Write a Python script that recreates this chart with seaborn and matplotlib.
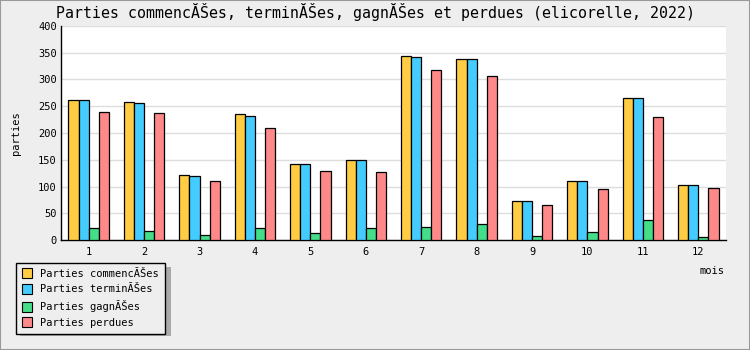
import matplotlib
matplotlib.use("Agg")
import matplotlib.pyplot as plt
from matplotlib.lines import Line2D
from matplotlib.patches import Rectangle
from matplotlib.ticker import MultipleLocator, FixedLocator
import seaborn as sns
import pandas as pd

mois = ["1", "2", "3", "4", "5", "6", "7", "8", "9", "10", "11", "12"]
commencees = [261, 257, 121, 235, 142, 149, 343, 337, 74, 110, 265, 104]
terminees = [261, 255, 119, 232, 142, 149, 341, 337, 74, 110, 265, 104]
gagnees = [22, 18, 9, 23, 13, 22, 24, 31, 8, 15, 37, 7]
perdues = [239, 237, 110, 209, 129, 127, 317, 306, 66, 95, 229, 97]
series = ["Parties commencĂŠes", "Parties terminĂŠes", "Parties gagnĂŠes", "Parties perdues"]
couleurs = ["#FFCC44", "#44CCFF", "#44DD88", "#FF8888"]
titre = "Parties commencĂŠes, terminĂŠes, gagnĂŠes et perdues (elicorelle, 2022)"

rows = []
for nom, vals in zip(series, [commencees, terminees, gagnees, perdues]):
    for m, v in zip(mois, vals):
        rows.append({"mois": m, "valeur": v, "serie": nom})
df = pd.DataFrame(rows)

sns.set_style("white")
plt.rcParams["font.family"] = ["DejaVu Sans Mono", "DejaVu Sans"]
plt.rcParams["text.color"] = "black"
plt.rcParams["xtick.color"] = "black"
plt.rcParams["ytick.color"] = "black"
plt.rcParams["axes.labelcolor"] = "black"

fig = plt.figure(figsize=(7.5, 3.5), dpi=100, facecolor="#EEEEEE")
ax = fig.add_axes([61 / 750, 1 - 240.3 / 350, (726 - 61) / 750, (240.3 - 25.7) / 350])
ax.set_facecolor("white")

sns.barplot(data=df, x="mois", y="valeur", hue="serie", order=mois, hue_order=series,
            palette=couleurs, width=0.73, gap=0, edgecolor="black", linewidth=0.9,
            saturation=1, legend=False, ax=ax, zorder=3)

ax.set_xlim(-0.5, 11.5)
ax.set_ylim(0, 400)
ax.yaxis.set_major_locator(MultipleLocator(50))
ax.yaxis.set_minor_locator(MultipleLocator(10))
ax.grid(axis="y", which="major", color="#DDDDDD", linewidth=1.0, zorder=0)
ax.set_axisbelow(True)
ax.tick_params(axis="y", which="major", direction="in", length=4.5, width=0.9,
               labelsize=7.5, pad=3, color="black", labelcolor="black")
ax.tick_params(axis="y", which="minor", direction="in", length=2.5, width=0.8, color="black")
ax.set_xticks(range(12))
ax.set_xticklabels(mois)
ax.xaxis.set_minor_locator(FixedLocator([i + 0.5 for i in range(-1, 12)]))
ax.tick_params(axis="x", which="major", length=0, labelsize=7.5, pad=5, labelcolor="black")
ax.tick_params(axis="x", which="minor", direction="in", length=4.5, width=0.9, color="black")
ax.set_xlabel("")
ax.set_ylabel("")
for s in ["top", "right"]:
    ax.spines[s].set_visible(False)
for s in ["left", "bottom"]:
    ax.spines[s].set_color("black")
    ax.spines[s].set_linewidth(1.0)

fig.text(0.5, 1 - 12 / 350, titre, ha="center", va="center", fontsize=10.7,
         fontweight="normal", color="black")
fig.text(15.5 / 750, 1 - 133 / 350, "parties", rotation=90, ha="center", va="center",
         fontsize=7.5, color="black")
fig.text(724 / 750, 1 - 271 / 350, "mois", ha="right", va="center", fontsize=7.5, color="black")

handles = [Line2D([], [], linestyle="none", marker="s", markersize=7.5,
                  markerfacecolor=c, markeredgecolor="black", markeredgewidth=0.8)
           for c in couleurs]
# legend shadow
fig.patches.append(Rectangle((20 / 750, 1 - 336 / 350), 151 / 750, 69 / 350,
                             transform=fig.transFigure, facecolor="#AAAAAA",
                             edgecolor="none", zorder=0))
leg = fig.legend(handles, series, loc="upper left",
                 bbox_to_anchor=(16 / 750, 1 - 263 / 350), borderaxespad=0,
                 fontsize=7.5, frameon=True, fancybox=False, framealpha=1,
                 facecolor="#EEEEEE", edgecolor="black", handlelength=1.0,
                 handletextpad=0.8, labelspacing=0.55, borderpad=0.55)
leg.get_frame().set_linewidth(1.0)
for t in leg.get_texts():
    t.set_color("black")

fig.patches.append(Rectangle((0, 0), 1, 1, transform=fig.transFigure, fill=False,
                             edgecolor="#999999", linewidth=1.5))

fig.savefig("out.png", dpi=100, facecolor="#EEEEEE")
